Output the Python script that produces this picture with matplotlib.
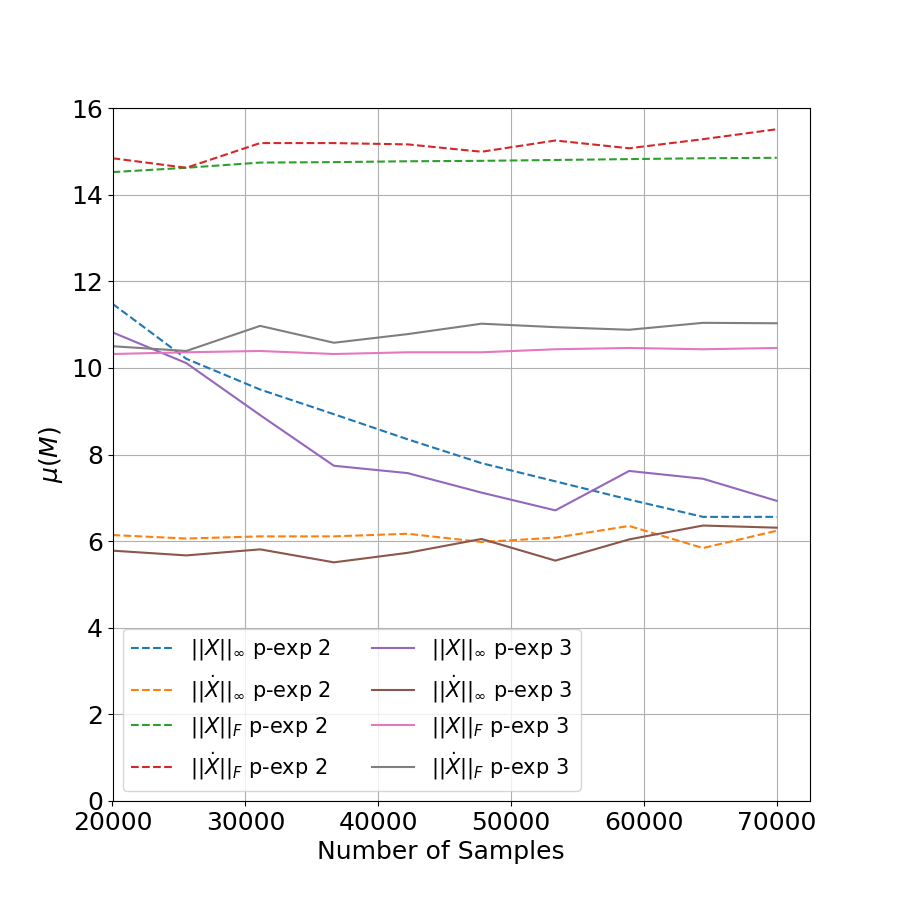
import numpy as np
from matplotlib import pyplot as plt

n_samples = np.linspace(20000, 70000, 10)

# p-exp 2 (dashed)
xinf_2 = [11.48, 10.21, 9.50, 8.93, 8.35, 7.80, 7.38, 6.96, 6.56, 6.56]
xdinf_2 = [6.14, 6.06, 6.11, 6.11, 6.17, 5.98, 6.08, 6.35, 5.84, 6.24]
xf_2 = [14.52, 14.62, 14.74, 14.75, 14.77, 14.78, 14.80, 14.82, 14.84, 14.85]
xdf_2 = [14.84, 14.62, 15.19, 15.19, 15.16, 14.99, 15.25, 15.07, 15.28, 15.51]

# p-exp 3 (solid)
xinf_3 = [10.82, 10.11, 8.91, 7.74, 7.57, 7.12, 6.71, 7.62, 7.44, 6.93]
xdinf_3 = [5.78, 5.67, 5.81, 5.51, 5.73, 6.05, 5.55, 6.04, 6.36, 6.31]
xf_3 = [10.32, 10.36, 10.39, 10.32, 10.36, 10.36, 10.43, 10.46, 10.43, 10.46]
xdf_3 = [10.50, 10.39, 10.97, 10.58, 10.78, 11.02, 10.94, 10.88, 11.04, 11.03]

fig = plt.figure(figsize=(9, 9), dpi=100)
ax = fig.add_subplot(111)

ax.plot(n_samples, xinf_2, '--', label=r'$||X||_\infty$ p-exp 2')
ax.plot(n_samples, xdinf_2, '--', label=r'$||\dot{X}||_\infty$ p-exp 2')
ax.plot(n_samples, xf_2, '--', label=r'$||X||_F$ p-exp 2')
ax.plot(n_samples, xdf_2, '--', label=r'$||\dot{X}||_F$ p-exp 2')
ax.plot(n_samples, xinf_3, '-', label=r'$||X||_\infty$ p-exp 3')
ax.plot(n_samples, xdinf_3, '-', label=r'$||\dot{X}||_\infty$ p-exp 3')
ax.plot(n_samples, xf_3, '-', label=r'$||X||_F$ p-exp 3')
ax.plot(n_samples, xdf_3, '-', label=r'$||\dot{X}||_F$ p-exp 3')

ax.set_xlim(left=20000)
ax.set_ylim(0, 16)
ax.grid(True)
ax.tick_params(labelsize=18)
ax.set_xlabel('Number of Samples', fontsize=18, x=0.47)
ax.set_ylabel(r'$\mu(M)$', fontsize=18)
ax.legend(loc='lower left', ncol=2, fontsize=15)

plt.savefig('out.png')
